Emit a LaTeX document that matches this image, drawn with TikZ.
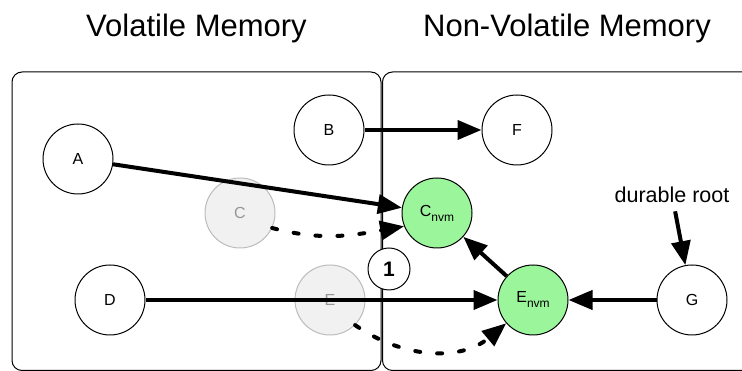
\documentclass[tikz,border=0pt]{standalone}
\usepackage{fontspec}
\setmainfont{Liberation Sans}
\usetikzlibrary{arrows.meta}

\definecolor{nvmgreen}{RGB}{155,245,155}
\definecolor{oldfill}{RGB}{241,241,241}
\definecolor{oldline}{RGB}{188,188,188}
\definecolor{oldtext}{RGB}{150,150,150}

\tikzset{
	obj/.style={draw, circle, line width=1pt, fill=white, minimum size=70pt, inner sep=0pt, font=\fontsize{16}{18}\selectfont},
	nvmobj/.style={obj, fill=nvmgreen},
	oldobj/.style={obj, draw=oldline, fill=oldfill, text=oldtext},
	region/.style={draw, rounded corners=10pt, line width=1pt},
	memtitle/.style={anchor=base, font=\fontsize{31}{36}\selectfont},
	ptr/.style={line width=4pt, -{Triangle[length=24pt,width=19pt]}},
	dptr/.style={ptr, line cap=round, dash pattern=on 5pt off 17pt},
}
\newcommand{\subnvm}{\raisebox{-5pt}{\fontsize{12}{13}\selectfont nvm}}

\begin{document}
\begin{tikzpicture}[x=1pt,y=1pt]
	\useasboundingbox (0,0) rectangle (742,371);
	\clip (0,0) rectangle (742,371);

	% obszary pamieci
	\draw[region] (12,0.5) rectangle (381,299);
	\draw[region] (382.5,0.5) rectangle (770,299);
	\node[memtitle] (vtitle) at (196.5,334) {Volatile Memory};
	\node[memtitle] (ntitle) at (567,334) {Non-Volatile Memory};

	\foreach \n/\x/\y in {A/78/212, B/329/241, D/110/71, F/517/241, G/692/71} {
		\node[obj] (\n) at (\x,\y) {\n};
	}
	\foreach \n/\x/\y in {C/240/158, E/330/71} {
		\node[oldobj] (\n) at (\x,\y) {\n};
	}
	\node[nvmobj] (Cnvm) at (437,158) {C\subnvm};
	\node[nvmobj] (Envm) at (533,71) {E\subnvm};
	\node[draw, circle, line width=1pt, fill=white, minimum size=42pt, inner sep=0pt, font=\bfseries\fontsize{21}{24}\selectfont] (one) at (389,102) {1};
	\node[font=\fontsize{21.5}{24}\selectfont] (root) at (672,176) {durable root};

	% wskazniki
	\draw[ptr] (A) -- (Cnvm);
	\draw[ptr] (B) -- (F);
	\draw[ptr] (D) -- (Envm);
	\draw[ptr] (G) -- (Envm);
	\draw[ptr] (Envm) -- (Cnvm);
	\draw[ptr, shorten <=5pt] (root) -- (G);
	\draw[dptr] (C.-25) to[out=-15, in=190] (Cnvm.-158);
	\draw[dptr] (E.-45) to[out=-35, in=-140] (Envm.-139);
\end{tikzpicture}
\end{document}
